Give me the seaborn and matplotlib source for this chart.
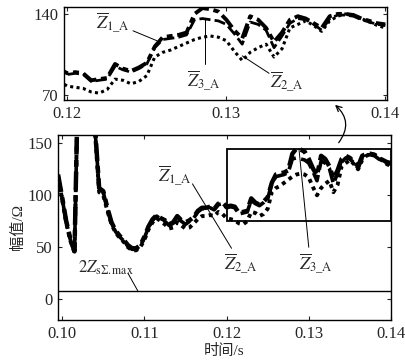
import numpy as np
import matplotlib
matplotlib.use("Agg")
import matplotlib.pyplot as plt
import seaborn as sns
from matplotlib.patches import Rectangle

# time axis (s), one sample every 0.5 ms
t = np.round(np.arange(0.0995, 0.14001, 0.0005), 4)

# impedance magnitudes (ohm)
z1 = [120, 98, 75, 58, 46, 240, 240, 240, 240, 165,
      107, 104, 88, 74, 66, 61, 57, 52, 49, 49,
      52, 60, 70, 77, 81, 78, 76, 72, 74, 80,
      76, 74, 76, 79, 85, 88, 88, 89, 87, 92,
      93, 89, 90, 89, 83, 84, 85, 97, 93, 91,
      94, 98, 112, 120, 121, 122, 124, 140, 145, 144,
      142, 135, 126, 119, 138, 135, 128, 116, 124, 135,
      138, 136, 132, 128, 138, 140, 140, 139, 136, 134,
      132, 131]
z3 = [119, 97, 74, 57, 45, 240, 240, 240, 240, 163,
      106, 103, 87, 73, 65, 60, 56, 51, 48, 48,
      51, 59, 69, 76, 80, 77, 75, 71, 73, 78,
      75, 72, 75, 78, 84, 87, 87, 88, 86, 91,
      92, 88, 89, 88, 82, 83, 84, 95, 92, 90,
      93, 97, 111, 118, 119, 120, 122, 135, 136, 135,
      134, 131, 123, 114, 133, 131, 126, 111, 121, 132,
      136, 135, 131, 126, 136, 139, 139, 138, 135, 133,
      131, 130]
z2 = [118, 96, 73, 56, 45, 240, 240, 240, 240, 160,
      103, 100, 85, 72, 64, 59, 55, 50, 47, 47,
      50, 57, 67, 74, 78, 75, 72, 68, 69, 74,
      71, 68, 69, 73, 77, 80, 80, 81, 80, 84,
      82, 78, 77, 76, 73, 72, 75, 84, 83, 80,
      82, 87, 103, 107, 109, 112, 115, 118, 120, 121,
      120, 117, 108, 100, 107, 111, 114, 103, 110, 128,
      131, 134, 130, 125, 134, 138, 140, 139, 136, 133,
      130, 128]
z_set = 8  # 2Z_s,max threshold

main_xticks = [0.10, 0.11, 0.12, 0.13, 0.14]
main_yticks = [0, 50, 100, 150]
inset_xticks = [0.12, 0.13, 0.14]
inset_yticks = [70, 140]

sns.set_style("ticks")
plt.rcParams["font.family"] = ["Liberation Serif", "Noto Sans CJK SC"]
plt.rcParams["mathtext.fontset"] = "stix"
plt.rcParams["xtick.direction"] = "in"
plt.rcParams["ytick.direction"] = "in"

fig = plt.figure(figsize=(4.06, 3.64), dpi=100)
ax_in = fig.add_axes([0.158, 0.725, 0.795, 0.256])
ax = fig.add_axes([0.143, 0.121, 0.820, 0.508])

styles = [
    (z1, dict(linestyle=(0, (4, 1.2, 1.5, 1.2)))),
    (z3, dict(linestyle=(0, (4, 1.5)))),
    (z2, dict(linestyle=(0, (1, 1.1)))),
]
widths = {ax: [3.2, 2.6, 2.8], ax_in: [2.8, 2.0, 2.2]}
for a in (ax, ax_in):
    for (z, kw), w in zip(styles, widths[a]):
        sns.lineplot(x=t, y=z, ax=a, color="black", lw=w, **kw)
    a.tick_params(top=True, right=True, length=3, width=0.8, labelsize=12, pad=4)
    for s in a.spines.values():
        s.set_linewidth(1.0)
        s.set_color("black")

# main axes
ax.set_xlim(0.0995, 0.14)
ax.set_ylim(-20, 158)
ax.set_xticks(main_xticks)
ax.set_xticklabels([f"{v:.2f}" for v in main_xticks])
ax.set_yticks(main_yticks)
ax.axhline(z_set, color="black", lw=1.0)
ax.add_patch(Rectangle((0.12, 75), 0.02, 70, fill=False, ec="black", lw=1.3, zorder=5))
ax.set_xlabel("时间/s", fontsize=11, labelpad=2)
ax.set_ylabel("幅值/Ω", fontsize=11, labelpad=2)

lbl = dict(fontsize=13, ha="center", va="center")
ax.text(0.1137, 118, r"$\overline{Z}_{\mathrm{1\_A}}$", **lbl)
ax.text(0.1218, 33, r"$\overline{Z}_{\mathrm{2\_A}}$", **lbl)
ax.text(0.1309, 33, r"$\overline{Z}_{\mathrm{3\_A}}$", **lbl)
ax.plot([0.11585, 0.1206], [111, 49], color="black", lw=0.7)
ax.plot([0.1300, 0.1288], [50, 145], color="black", lw=0.7)
ax.text(0.1053, 30, r"$2Z_{\mathrm{s\Sigma.max}}$", fontsize=12, ha="center", va="center")
ax.plot([0.1080, 0.1092], [25, z_set], color="black", lw=0.7)

# inset axes
ax_in.set_xlim(0.1198, 0.1401)
ax_in.set_ylim(66, 146)
ax_in.set_xticks(inset_xticks)
ax_in.set_xticklabels([f"{v:.2f}" for v in inset_xticks])
ax_in.set_yticks(inset_yticks)
ax_in.set_xlabel("")
ax_in.set_ylabel("")
ax_in.text(0.1229, 132, r"$\overline{Z}_{\mathrm{1\_A}}$", **lbl)
ax_in.text(0.1286, 82, r"$\overline{Z}_{\mathrm{3\_A}}$", **lbl)
ax_in.text(0.1338, 81, r"$\overline{Z}_{\mathrm{2\_A}}$", **lbl)
ax_in.plot([0.12413, 0.12563], [125.5, 117], color="black", lw=0.7)
ax_in.plot([0.12869, 0.12869], [97, 136], color="black", lw=0.7)
ax_in.plot([0.13269, 0.1310], [89, 104], color="black", lw=0.7)

# curved arrow from zoom box to inset
fig.patches.append(matplotlib.patches.FancyArrowPatch(
    (0.830, 0.602), (0.820, 0.717), transform=fig.transFigure,
    connectionstyle="arc3,rad=0.5", arrowstyle="->", mutation_scale=10,
    color="black", lw=0.9))

fig.savefig("out.png", dpi=100, facecolor="white")
